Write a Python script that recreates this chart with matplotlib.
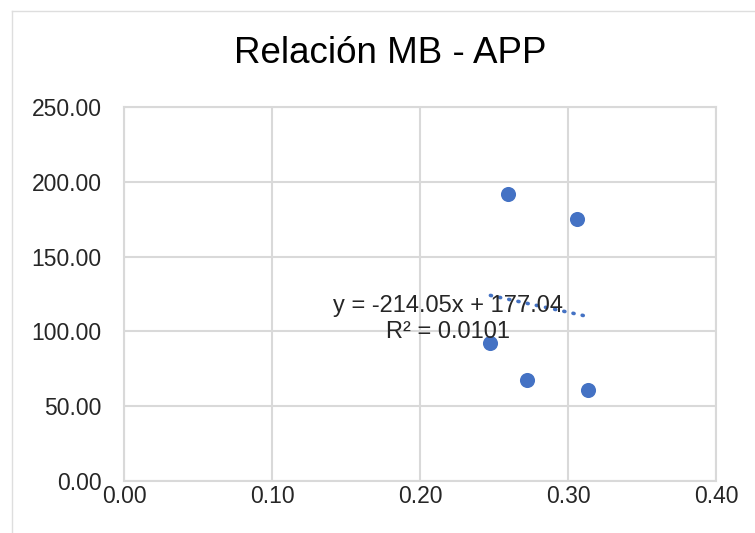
import numpy as np
import matplotlib
matplotlib.use("Agg")
import matplotlib.pyplot as plt
from matplotlib.lines import Line2D

plt.rcParams['font.family'] = ['Liberation Sans', 'DejaVu Sans']

# MB (x) vs APP (y)
mb = [0.2595, 0.3064, 0.2476, 0.2723, 0.3132]
app = [191.6, 174.9, 92.0, 67.7, 60.6]

# linear trend as reported on the chart
slope = -214.05
intercept = 177.04
r2 = 0.0101

x_ticks = [0.0, 0.1, 0.2, 0.3, 0.4]
y_ticks = [0, 50, 100, 150, 200, 250]

blue = '#4472C4'
grid_col = '#d9d9d9'
text_col = '#262626'

fig = plt.figure(figsize=(7.55, 5.33), dpi=100)
ax = fig.add_axes([0.1642, 0.0976, 0.7841, 0.7017])

ax.scatter(mb, app, s=118, color=blue, zorder=3, linewidths=0)

xs = np.array([min(mb), max(mb)])
ax.plot(xs, slope * xs + intercept, color=blue, linewidth=2.6,
        linestyle=(0, (0.3, 2.3)), dash_capstyle='round', zorder=2)

ax.text(0.2192, 108.5, f"y = {slope:.2f}x + {intercept:.2f}\nR² = {r2:.4f}",
        ha='center', va='center', fontsize=17, color=text_col,
        linespacing=1.22, zorder=4)

ax.set_xlim(0, 0.4)
ax.set_ylim(0, 250)
ax.set_xticks(x_ticks)
ax.set_yticks(y_ticks)
ax.set_xticklabels([f"{v:.2f}" for v in x_ticks])
ax.set_yticklabels([f"{v:.2f}" for v in y_ticks])
ax.tick_params(axis='both', length=0, labelsize=16.5, labelcolor=text_col)
ax.tick_params(axis='y', pad=16)
ax.tick_params(axis='x', pad=3)
ax.grid(True, color=grid_col, linewidth=1.5)
ax.set_axisbelow(True)
for sp in ax.spines.values():
    sp.set_color(grid_col)
    sp.set_linewidth(1.5)

fig.text(0.517, 0.899, "Relación MB - APP", ha='center', va='center',
         fontsize=26.5, color='black')

# chart area border (top and left edges)
fig.add_artist(Line2D([12 / 755, 1], [1 - 11 / 533, 1 - 11 / 533],
                      color='#dedede', linewidth=1, transform=fig.transFigure))
fig.add_artist(Line2D([12 / 755, 12 / 755], [0, 1 - 11 / 533],
                      color='#dedede', linewidth=1, transform=fig.transFigure))

fig.savefig("out.png", dpi=100)
